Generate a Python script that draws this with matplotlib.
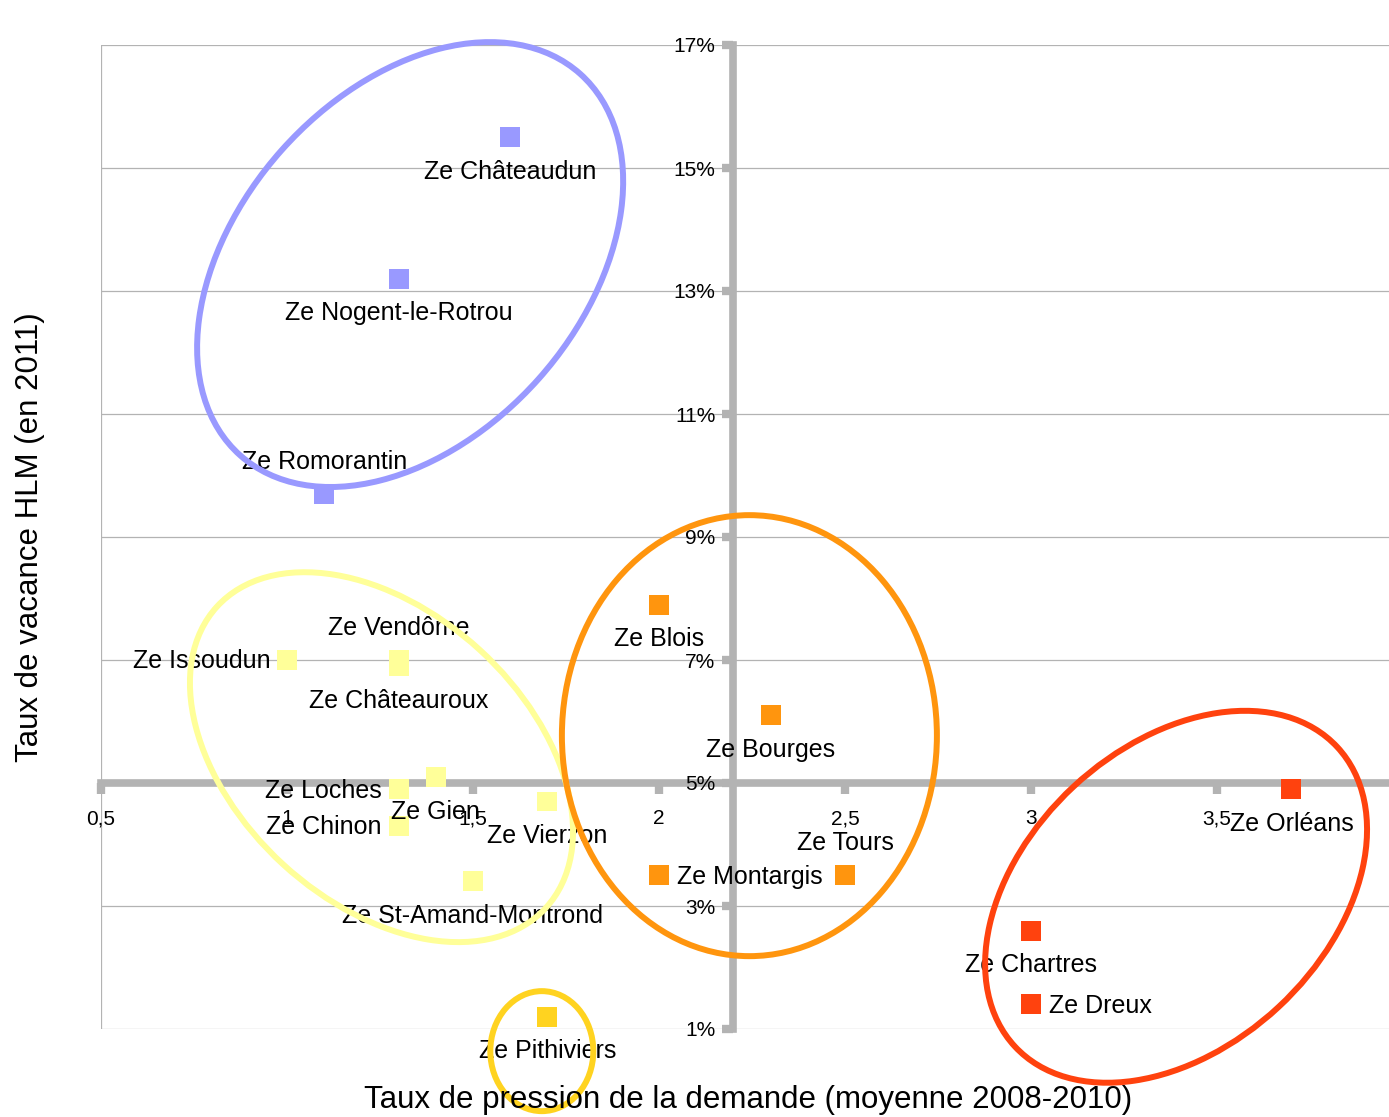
import matplotlib
matplotlib.use('Agg')
import matplotlib.pyplot as plt
from matplotlib.patches import Ellipse
from matplotlib import transforms

plt.rcParams['font.family'] = ['Liberation Sans', 'DejaVu Sans']

# zones d'emploi de la region Centre
zones = ['Ze Châteaudun', 'Ze Nogent-le-Rotrou', 'Ze Romorantin',
         'Ze Issoudun', 'Ze Vendôme', 'Ze Châteauroux', 'Ze Loches', 'Ze Chinon',
         'Ze Gien', 'Ze Vierzon', 'Ze St-Amand-Montrond',
         'Ze Pithiviers',
         'Ze Blois', 'Ze Bourges', 'Ze Tours', 'Ze Montargis',
         'Ze Orléans', 'Ze Chartres', 'Ze Dreux']
pression = [1.6, 1.3, 1.1,
            1.0, 1.3, 1.3, 1.3, 1.3, 1.4, 1.7, 1.5,
            1.7,
            2.0, 2.3, 2.5, 2.0,
            3.7, 3.0, 3.0]
vacance = [15.5, 13.2, 9.7,
           7.0, 7.0, 6.9, 4.9, 4.3, 5.1, 4.7, 3.4,
           1.2,
           7.9, 6.1, 3.5, 3.5,
           4.9, 2.6, 1.4]
groupe = ['bleu'] * 3 + ['jaune'] * 8 + ['or'] + ['orange'] * 4 + ['rouge'] * 3

# where each label sits relative to its point
place = ['below', 'below', 'above',
         'left', 'above', 'below', 'left', 'left', 'below', 'below', 'below',
         'below',
         'below', 'below', 'above', 'right',
         'below', 'below', 'right']

couleurs = {'bleu': '#9999ff', 'jaune': '#ffff99', 'or': '#ffd320',
            'orange': '#ff950e', 'rouge': '#ff420e'}

x_ticks = [0.5, 1, 1.5, 2, 2.5, 3, 3.5]
y_ticks = [1, 3, 5, 7, 9, 11, 13, 15, 17]

# hand-drawn groupings: centre (data), width/height in px, angle
ellipses = [(1.331, 13.43, 511, 344, 48.3, 'bleu'),
            (1.254, 5.42, 446, 291, -42.5, 'jaune'),
            (2.243, 5.77, 375, 441, 0, 'orange'),
            (3.39, 3.15, 440, 301, 42.9, 'rouge'),
            (1.685, 0.64, 103, 120, 0, 'or')]

GRIS = '#b3b3b3'

fig = plt.figure(figsize=(13.89, 11.17), dpi=100)
ax = fig.add_axes([101 / 1389, 88 / 1117, 1288 / 1389, 984 / 1117])
ax.set_xlim(0.5, 0.5 + 1288 / 372)
ax.set_ylim(1, 17)

# grid
for y in y_ticks:
    ax.axhline(y, color=GRIS, lw=0.9, zorder=0)
ax.axvline(0.5, color=GRIS, lw=0.9, zorder=0)

# axes crossing at (2.2, 5%)
for s in ['top', 'right']:
    ax.spines[s].set_visible(False)
ax.spines['left'].set_position(('data', 2.2))
ax.spines['bottom'].set_position(('data', 5))
for s in ['left', 'bottom']:
    ax.spines[s].set_color(GRIS)
    ax.spines[s].set_linewidth(5.5)
    ax.spines[s].set_zorder(1)

ax.set_xticks(x_ticks)
ax.set_xticklabels([('%g' % v).replace('.', ',') for v in x_ticks])
ax.set_yticks(y_ticks)
ax.set_yticklabels(['%d%%' % v for v in y_ticks])
ax.tick_params(axis='both', direction='out', length=8, width=6, color=GRIS,
               labelsize=15, labelcolor='black')
ax.tick_params(axis='x', pad=11)
ax.tick_params(axis='y', pad=5)

ax.scatter(pression, vacance, s=205, marker='s',
           c=[couleurs[g] for g in groupe], zorder=3, linewidths=0)

offs = {'below': ((0, -25), 'center'), 'above': ((0, 23), 'center'),
        'left': ((-12, -1), 'right'), 'right': ((13, -1), 'left')}
for nom, x, y, p in zip(zones, pression, vacance, place):
    (dx, dy), ha = offs[p]
    ax.annotate(nom, (x, y), xytext=(dx, dy), textcoords='offset points',
                ha=ha, va='center', fontsize=18, zorder=4)

for xc, yc, w, h, ang, g in ellipses:
    tr = fig.dpi_scale_trans + transforms.ScaledTranslation(xc, yc, ax.transData)
    e = Ellipse((0, 0), w / 100, h / 100, angle=ang, transform=tr,
                fill=False, edgecolor=couleurs[g], lw=4.3, clip_on=False, zorder=10)
    ax.add_artist(e)

fig.text(748 / 1389, 17 / 1117, 'Taux de pression de la demande (moyenne 2008-2010)',
         ha='center', va='center', fontsize=22.5)
fig.text(30 / 1389, 580 / 1117, 'Taux de vacance HLM (en 2011)',
         ha='center', va='center', rotation=90, fontsize=22.5)

fig.savefig('out.png', dpi=100)
